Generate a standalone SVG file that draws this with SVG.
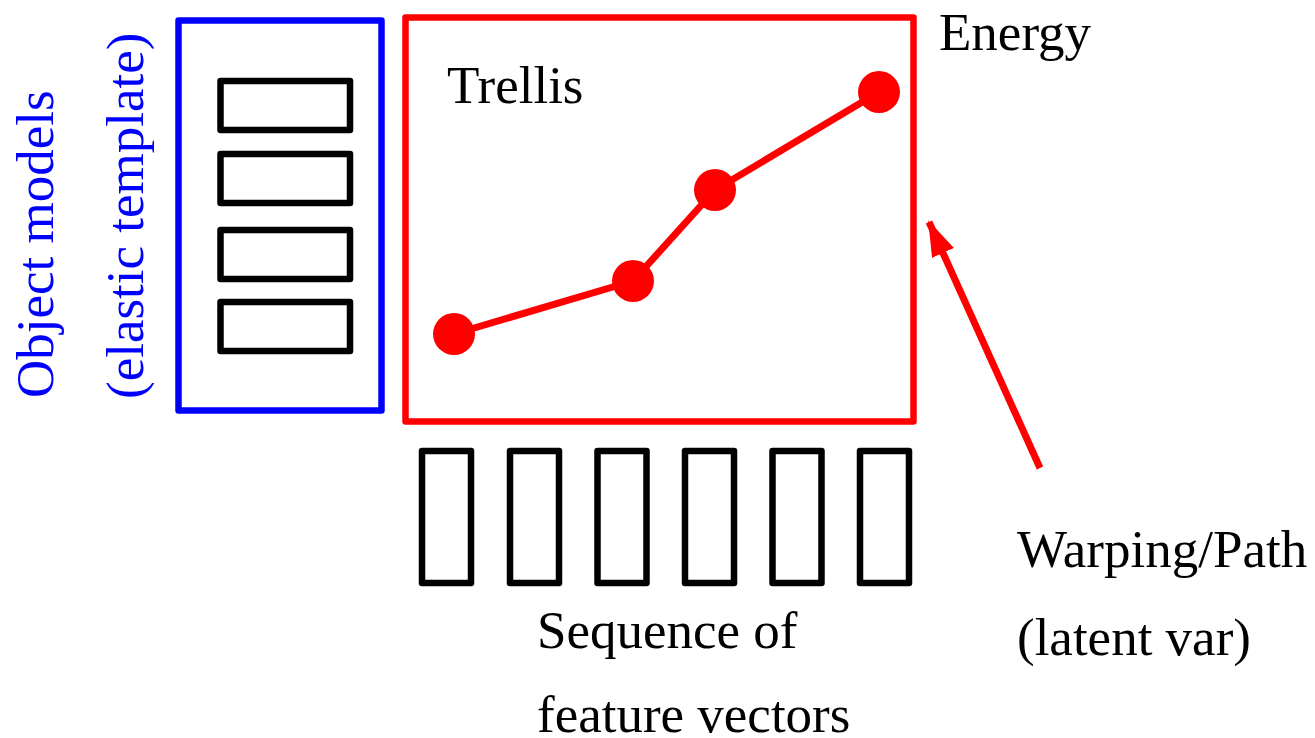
<svg xmlns="http://www.w3.org/2000/svg" width="1315" height="738" viewBox="0 0 1315 738">
  <style>
    .lbl { font-family: "Liberation Serif", "Times New Roman", serif; font-size: 53px; fill: #000; }
    .blue { fill: #0000ff; }
    .cell { fill: none; stroke: #000; stroke-width: 6.5; stroke-linejoin: round; }
    .frame-blue { fill: none; stroke: #0000ff; stroke-width: 6.5; stroke-linejoin: round; }
    .frame-red { fill: none; stroke: #ff0000; stroke-width: 6.5; stroke-linejoin: round; }
    .path { fill: none; stroke: #ff0000; stroke-width: 7; stroke-linejoin: round; }
    .dot { fill: #ff0000; }
  </style>
  <defs>
    <marker id="head" markerUnits="userSpaceOnUse" markerWidth="36" markerHeight="24" refX="34" refY="12" orient="auto">
      <path d="M0,0 L36,12 L0,24 Z" fill="#ff0000"/>
    </marker>
  </defs>
  <rect width="1315" height="738" fill="#fff"/>

  <!-- object models: elastic template -->
  <g id="object-models">
    <rect class="frame-blue" x="178.5" y="20.5" width="203" height="390"/>
    <rect class="cell" x="220.5" y="81" width="129.5" height="49"/>
    <rect class="cell" x="220.5" y="154" width="129.5" height="49"/>
    <rect class="cell" x="220.5" y="230" width="129.5" height="49"/>
    <rect class="cell" x="220.5" y="302" width="129.5" height="49"/>
    <text class="lbl blue" transform="translate(53,398) rotate(-90)">Object models</text>
    <text class="lbl blue" transform="translate(143,399) rotate(-90)">(elastic template)</text>
  </g>

  <!-- trellis with the best path -->
  <g id="trellis">
    <rect class="frame-red" x="405.5" y="17.5" width="508" height="404"/>
    <text class="lbl" x="447" y="103">Trellis</text>
    <polyline class="path" points="454,334 633,281 715,190 879,92"/>
    <circle class="dot" cx="454" cy="334" r="21"/>
    <circle class="dot" cx="633" cy="281" r="21"/>
    <circle class="dot" cx="715" cy="190" r="21"/>
    <circle class="dot" cx="879" cy="92" r="21"/>
  </g>

  <g id="energy">
    <text class="lbl" x="939" y="50">Energy</text>
  </g>

  <!-- input sequence -->
  <g id="feature-sequence">
    <rect class="cell" x="422" y="451" width="49" height="132"/>
    <rect class="cell" x="510" y="451" width="49" height="132"/>
    <rect class="cell" x="597.5" y="451" width="49" height="132"/>
    <rect class="cell" x="685" y="451" width="49" height="132"/>
    <rect class="cell" x="772.5" y="451" width="49" height="132"/>
    <rect class="cell" x="860" y="451" width="49" height="132"/>
    <text class="lbl" x="537" y="648">Sequence of</text>
    <text class="lbl" x="537" y="732">feature vectors</text>
  </g>

  <g id="warping-label">
    <text class="lbl" x="1017" y="567">Warping/Path</text>
    <text class="lbl" x="1017" y="655">(latent var)</text>
  </g>

  <g id="connectors">
    <line x1="1040" y1="468" x2="929" y2="222" stroke="#ff0000" stroke-width="7" marker-end="url(#head)"/>
  </g>
</svg>
